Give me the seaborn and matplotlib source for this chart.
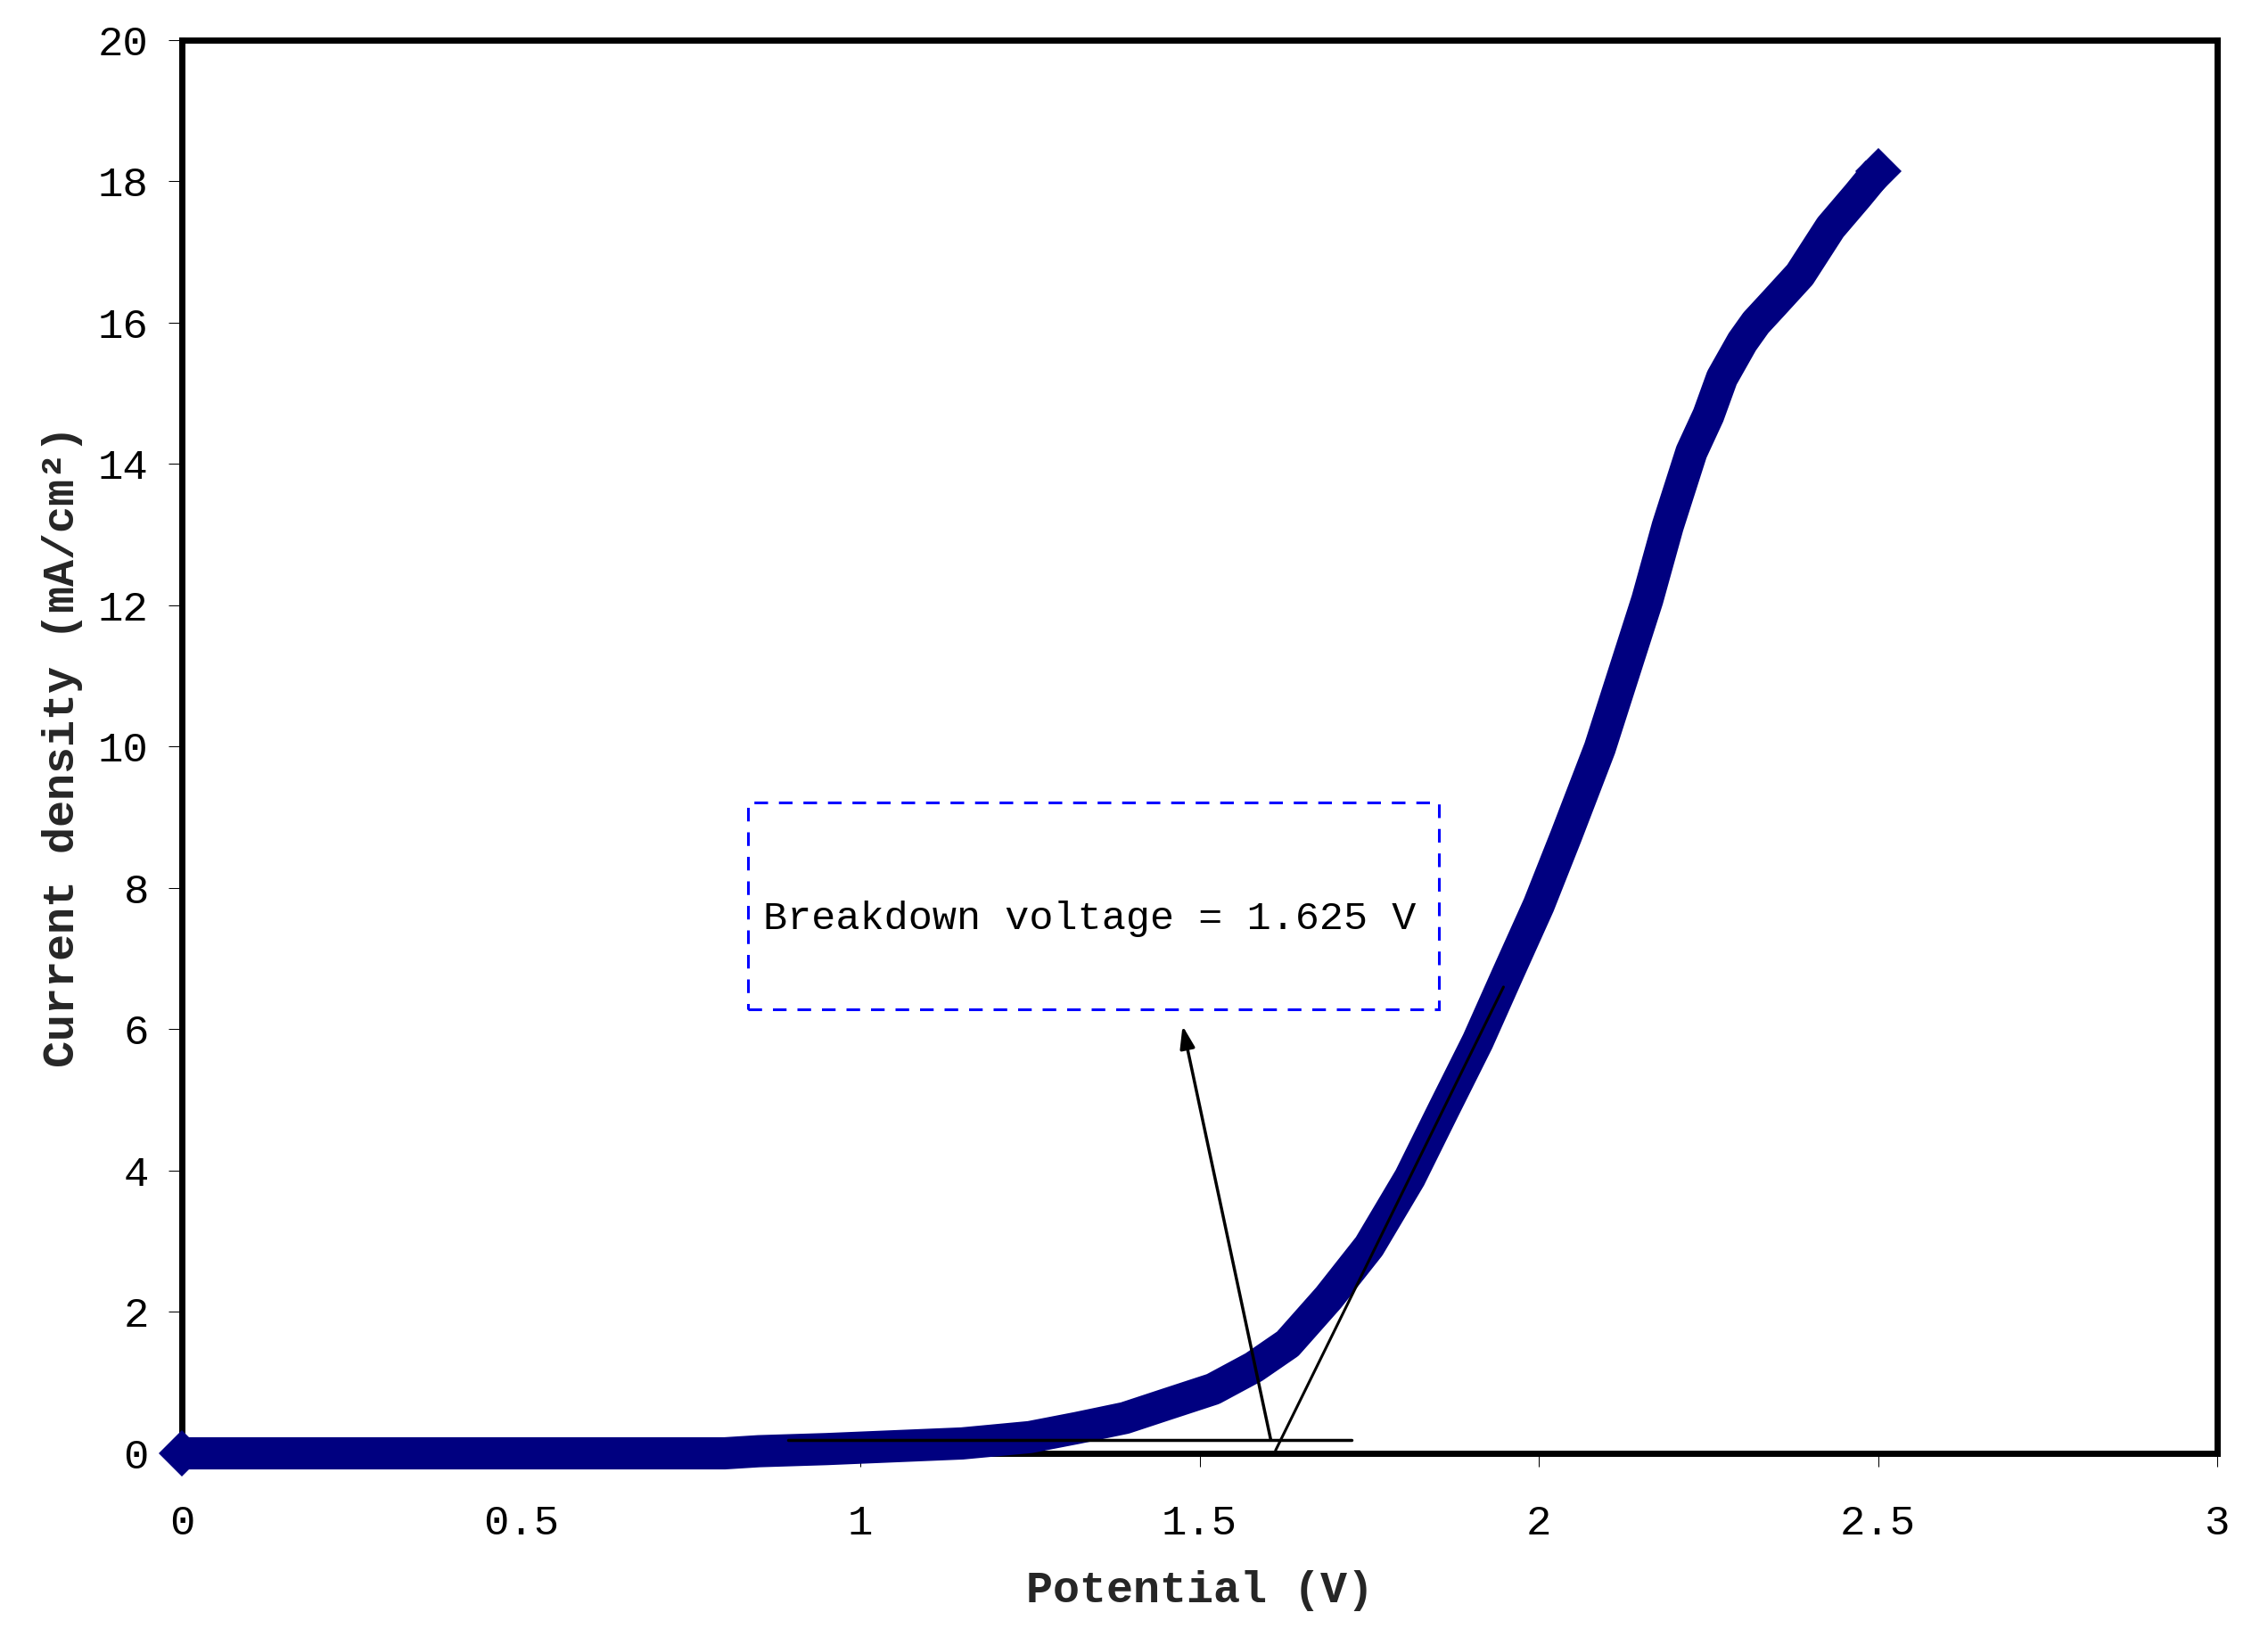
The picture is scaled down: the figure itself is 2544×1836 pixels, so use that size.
import matplotlib
matplotlib.use("Agg")
import matplotlib.pyplot as plt
import seaborn as sns
import pandas as pd
from matplotlib.patches import Rectangle

# Polarisation curve
potential = [0.0, 0.2, 0.4, 0.6, 0.8, 0.85, 0.95, 1.05, 1.15, 1.25, 1.32, 1.39,
             1.45, 1.52, 1.58, 1.63, 1.69, 1.75, 1.81, 1.86, 1.91, 1.955, 2.0,
             2.04, 2.09, 2.125, 2.16, 2.19, 2.225, 2.25, 2.27, 2.30, 2.32,
             2.345, 2.385, 2.43, 2.47, 2.5]
current = [0.0, 0.0, 0.0, 0.0, 0.0, 0.03, 0.06, 0.10, 0.14, 0.23, 0.36, 0.50,
           0.69, 0.91, 1.22, 1.55, 2.2, 2.93, 3.9, 4.87, 5.83, 6.8, 7.76,
           8.73, 9.98, 11.03, 12.08, 13.12, 14.17, 14.69, 15.22, 15.73, 16.0,
           16.26, 16.68, 17.35, 17.8, 18.15]

# construction lines for the breakdown voltage
baseline_x = [0.894, 1.724]
baseline_y = [0.19, 0.19]
tangent_x = [1.612, 1.948]
tangent_y = [0.04, 6.6]
arrow_tail = (1.605, 0.19)
arrow_head = (1.475, 6.05)

label_text = "Breakdown voltage = 1.625 V"
x_ticks = [0, 0.5, 1, 1.5, 2, 2.5, 3]
x_ticklabels = ["0", "0.5", "1", "1.5", "2", "2.5", "3"]
y_ticks = list(range(0, 21, 2))

df = pd.DataFrame({"potential": potential, "current": current})

sns.set_theme(style="ticks")
plt.rcParams["font.family"] = ["Liberation Mono", "DejaVu Sans"]

fig = plt.figure(figsize=(25.44, 18.36), dpi=100)
ax = fig.add_axes([0.0802, 0.1122, 0.8974, 0.8633])

sns.lineplot(data=df, x="potential", y="current", ax=ax, color="#000080",
             marker="D", markeredgewidth=0, markevery=[0, len(df) - 1],
             solid_joinstyle="round", solid_capstyle="butt",
             clip_on=False, zorder=4)
curve = ax.lines[-1]
curve.set_linewidth(26)
curve.set_markersize(26)

ax.plot(baseline_x, baseline_y, color="black", lw=2.5, zorder=5)
ax.plot(tangent_x, tangent_y, color="black", lw=2.2, zorder=5)
ax.annotate("", xy=arrow_head, xytext=arrow_tail,
            arrowprops=dict(arrowstyle="-|>,head_length=0.6,head_width=0.2",
                            mutation_scale=25, color="black", lw=2.5,
                            shrinkA=0, shrinkB=0), zorder=5)

box = Rectangle((0.834, 6.28), 1.853 - 0.834, 9.21 - 6.28, fill=False,
                edgecolor="#0000FF", lw=2.2, linestyle=(0, (5, 4)), zorder=5)
ax.add_patch(box)
ax.text(0.857, 7.57, label_text, fontsize=32.5, va="center", ha="left",
        color="black", zorder=6)

ax.set_xlim(0, 3)
ax.set_ylim(0, 20)
ax.set_xticks(x_ticks)
ax.set_xticklabels(x_ticklabels)
ax.set_yticks(y_ticks)
ax.tick_params(direction="out", length=10.8, width=0.75, labelsize=34,
               color="black", labelcolor="black")
ax.tick_params(axis="y", pad=16)
ax.tick_params(axis="x", pad=30)

for side in ["left", "right", "top", "bottom"]:
    ax.spines[side].set_visible(True)
    ax.spines[side].set_linewidth(5)
    ax.spines[side].set_color("black")

ax.set_xlabel("Potential (V)", fontsize=36, fontweight="bold", labelpad=22)
ax.set_ylabel("Current density (mA/cm²)", fontsize=36, fontweight="bold",
              labelpad=12)

fig.savefig("out.png", dpi=100, facecolor="white")
